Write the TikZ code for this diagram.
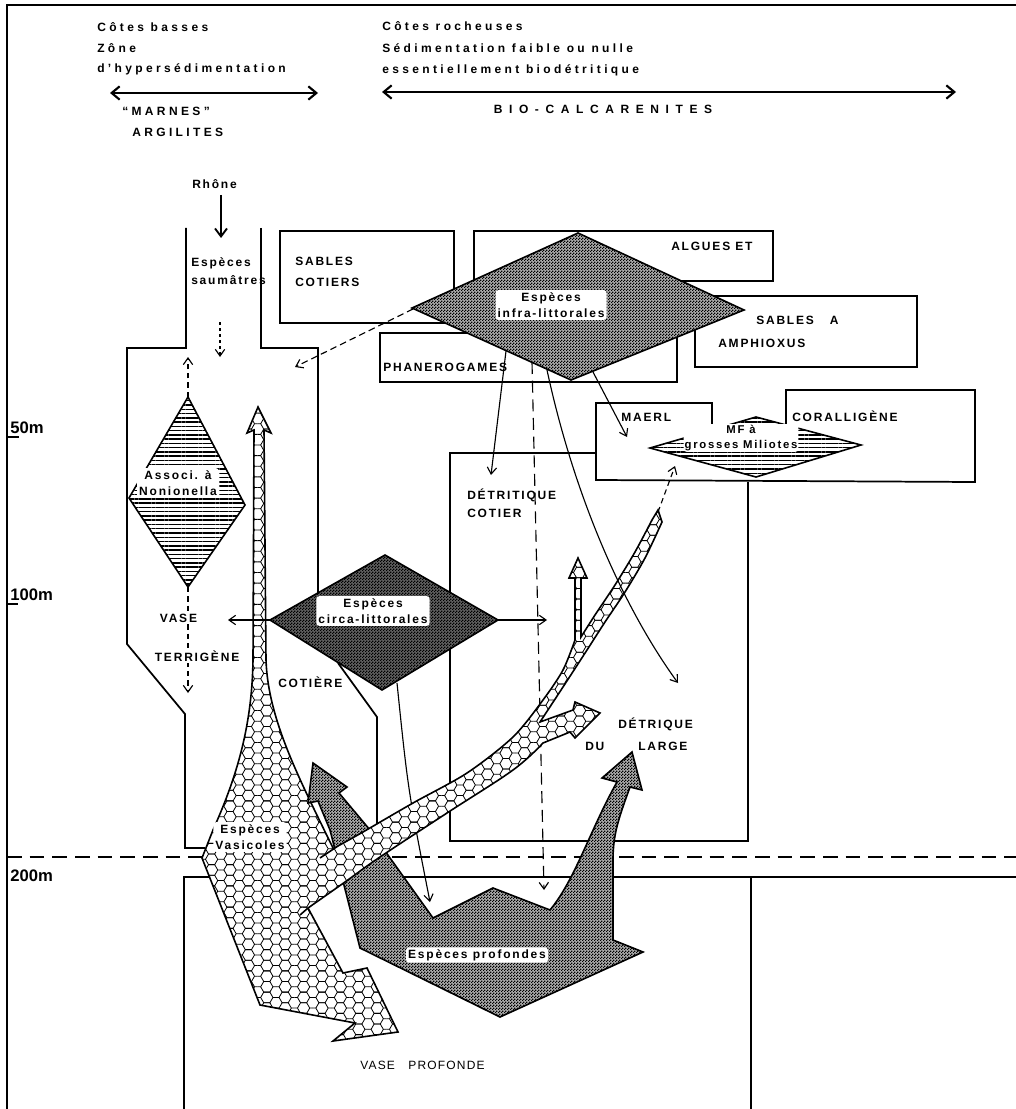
\documentclass[tikz,border=0pt]{standalone}
\usepackage{fontspec}
\setmainfont{Liberation Sans}
\newfontfamily\topf[LetterSpace=28]{Liberation Sans}
\newfontfamily\labf[LetterSpace=15]{Liberation Sans}
\newfontfamily\biof[LetterSpace=55]{Liberation Sans}
\newfontfamily\labg[LetterSpace=10]{Liberation Sans}
\usetikzlibrary{arrows.meta,patterns,patterns.meta}
\pgfdeclarepatternformonly{hexcells}{\pgfqpoint{-1pt}{-1pt}}{\pgfqpoint{14.8pt}{8.968pt}}{\pgfqpoint{13.8pt}{7.968pt}}{%
  \pgfsetlinewidth{0.6pt}%
  \pgfpathmoveto{\pgfqpoint{0pt}{3.984pt}}%
  \pgfpathlineto{\pgfqpoint{2.3pt}{3.984pt}}%
  \pgfpathlineto{\pgfqpoint{4.6pt}{7.968pt}}%
  \pgfpathlineto{\pgfqpoint{9.2pt}{7.968pt}}%
  \pgfpathlineto{\pgfqpoint{11.5pt}{3.984pt}}%
  \pgfpathlineto{\pgfqpoint{13.8pt}{3.984pt}}%
  \pgfpathmoveto{\pgfqpoint{2.3pt}{3.984pt}}%
  \pgfpathlineto{\pgfqpoint{4.6pt}{0pt}}%
  \pgfpathlineto{\pgfqpoint{9.2pt}{0pt}}%
  \pgfpathlineto{\pgfqpoint{11.5pt}{3.984pt}}%
  \pgfusepath{stroke}}
\pgfdeclarepatternformonly{halftone}{\pgfpointorigin}{\pgfqpoint{2pt}{2pt}}{\pgfqpoint{2pt}{2pt}}{%
  \pgfpathrectangle{\pgfpointorigin}{\pgfqpoint{1pt}{1pt}}%
  \pgfpathrectangle{\pgfqpoint{1pt}{1pt}}{\pgfqpoint{1pt}{1pt}}%
  \pgfusepath{fill}}
\begin{document}
\begin{tikzpicture}[x=0.75pt,y=-0.75pt,
  toplab/.style={font=\topf\bfseries\fontsize{9}{12.5}\selectfont, inner sep=0pt},
  lab/.style={font=\labf\bfseries\fontsize{9}{12.5}\selectfont, inner sep=0pt},
  wlab/.style={lab, fill=white, rounded corners=2pt, inner sep=1.5pt, align=center},
  plab/.style={font=\labg\fontsize{9}{10}\selectfont, inner sep=0pt},
  dep/.style={font=\bfseries\fontsize{12.5}{13}\selectfont, inner sep=0pt},
  wall/.style={line width=1.3pt},
  thinl/.style={line width=0.9pt},
  tarrow/.style={line width=0.85pt, -{Straight Barb[length=5pt,width=7pt]}},
  bigarrow/.style={line width=1.6pt, {Straight Barb[length=6pt,width=10pt]}-{Straight Barb[length=6pt,width=10pt]}},
  hexfill/.style={preaction={fill=white}, pattern=hexcells},
  stripes/.style={preaction={fill=white}, pattern={Lines[angle=0,distance=3.2pt,line width=1.1pt]}},
  greyA/.style={preaction={fill=black!32}, pattern=halftone},
  greyB/.style={preaction={fill=black!62}, pattern=halftone},
  shapeline/.style={line width=1.2pt}]
\useasboundingbox (0,0) rectangle (1016,1109);
\fill[white] (0,0) rectangle (1016,1109);

% frame
\draw[line width=1.5pt] (7,1109) -- (7,5) -- (1016,5);

% top texts
\node[toplab,anchor=base west] (cb1) at (97,32) {Côtes basses};
\node[toplab,anchor=base west] (cb2) at (97,53) {Zône};
\node[toplab,anchor=base west] (cb3) at (97,73) {d’hypersédimentation};
\node[toplab,anchor=base west] (cr1) at (382,31) {Côtes rocheuses};
\node[toplab,anchor=base west] (cr2) at (382,53) {Sédimentation faible ou nulle};
\node[toplab,anchor=base west] (cr3) at (382,74) {essentiellement biodétritique};
\coordinate (mL) at (110,93); \coordinate (mR) at (318,93);
\draw[bigarrow] (mL) -- (mR);
\node[toplab,anchor=base west] (marnes) at (122,116) {“MARNES”};
\node[toplab,anchor=base west] (argil) at (132,137) {ARGILITES};
\coordinate (bL) at (382,92); \coordinate (bR) at (956,92);
\draw[bigarrow] (bL) -- (bR);
\node[font=\biof\bfseries\fontsize{9}{10}\selectfont, inner sep=0pt, anchor=base] (bio) at (603,114) {BIO-CALCARENITES};

% Rhone
\node[lab,anchor=base west] (rhone) at (192,189) {Rhône};
\coordinate (rh1) at (221,195); \coordinate (rh2) at (221,238);
\draw[line width=1.4pt,-{Straight Barb[length=6pt,width=9pt]}] (rh1) -- (rh2);

% depth scale
\node[dep,anchor=base west] (d50) at (10,433) {50m};
\draw[thinl] (7,437) -- (19,437);
\node[dep,anchor=base west] (d100) at (10,600) {100m};
\draw[thinl] (7,604) -- (18,604);
\node[dep,anchor=base west] (d200) at (10,881) {200m};
\draw[line width=1.4pt, dash pattern=on 11pt off 6pt] (7,857) -- (1016,857);

% funnel (vase terrigene)
\draw[wall] (186,228) -- (186,348) -- (127,348) -- (127,644) -- (185,714) -- (185,848) -- (205,848);
\draw[wall] (261,228) -- (261,348) -- (318,348) -- (318,605);
\draw[wall] (338,663) -- (377,717) -- (377,850);
\node[lab,anchor=base west] (sa1) at (191,267) {Espèces};
\node[lab,anchor=base west] (sa2) at (191,284) {saumâtres};

% boxes
\draw[wall] (280,231) rectangle (454,323);
\draw[wall] (474,231) rectangle (773,281);
\draw[wall] (695,296) rectangle (917,367);
\draw[wall] (380,333) rectangle (677,382);
\draw[wall] (712,430) -- (712,403) -- (596,403) -- (596,480) -- (975,482) -- (975,390) -- (786,390) -- (786,425);
\draw[wall] (596,453) -- (450,453) -- (450,841) -- (748,841) -- (748,482);
\draw[wall] (184,1109) -- (184,877) -- (1016,877);
\draw[wall] (751,877) -- (751,1109);

% arrows from infra-littoral diamond
\coordinate (iL) at (413,309); \coordinate (iLt) at (295,367);
\draw[tarrow, dash pattern=on 5pt off 3pt] (iL) -- (iLt);
\coordinate (iA) at (506,351); \coordinate (iAt) at (491,475);
\draw[tarrow] (iA) -- (iAt);
\coordinate (iB) at (532,362); \coordinate (iBt) at (544,890);
\draw[tarrow, dash pattern=on 9pt off 5pt] (iB) -- (iBt);
\coordinate (iC) at (593,372); \coordinate (iCt) at (627,437);
\draw[tarrow] (iC) -- (iCt);

% infra diamond
\draw[shapeline, greyA] (578,233) coordinate (inT) -- (744,310) coordinate (inR) -- (571,380) coordinate (inB) -- (412,308) coordinate (inL) -- cycle;
\node[wlab] (infra) at (551,305) {Espèces\\infra-littorales};

% MF diamond
\draw[shapeline, stripes] (650,448) coordinate (mfL) -- (756,417) coordinate (mfT) -- (861,445) coordinate (mfR) -- (756,477) coordinate (mfB) -- cycle;
\node[wlab, inner sep=0.8pt, font=\labf\bfseries\fontsize{8.5}{11}\selectfont] (mf) at (741,438) {MF à\\grosses Miliotes};

% Nonionella diamond
\draw[shapeline, stripes] (188,397) coordinate (noT) -- (245,505) coordinate (noR) -- (188,587) coordinate (noB) -- (129,498) coordinate (noL) -- cycle;
\node[wlab] (non) at (178,483) {Associ. à\\Nonionella};
\coordinate (noUp) at (188,357); \coordinate (noDn) at (188,693);
\draw[tarrow, dash pattern=on 4pt off 3pt] (noT) -- (noUp);
\draw[tarrow, dash pattern=on 4pt off 3pt] (noB) -- (noDn);
\coordinate (saA) at (220,322); \coordinate (saB) at (220,357);
\draw[tarrow, dash pattern=on 2.5pt off 2pt] (saA) -- (saB);
\node[lab, fill=white, inner sep=1.2pt, anchor=base west] (vase) at (158,622) {VASE};
\node[lab, fill=white, inner sep=1.2pt, anchor=base west] (terr) at (153,661) {TERRIGÈNE};

% circa diamond
\draw[shapeline, greyB] (385,555) coordinate (ciT) -- (498,620) coordinate (ciR) -- (382,690) coordinate (ciB) -- (270,620) coordinate (ciL) -- cycle;
\node[wlab] (circa) at (373,611) {Espèces\\circa-littorales};
\coordinate (ciD) at (397,683); \coordinate (ciDt) at (430,902);
\draw[tarrow] (ciD) .. controls (408,790) .. (ciDt);

% vasicoles body
\draw[shapeline, hexfill] (258,407) -- (271,433) -- (264,430) -- (266,660) .. controls (268,720) and (300,780) .. (333,848) -- (340,880) -- (308,908) -- (343,973) -- (367,968) -- (398,1032) -- (333,1041) -- (355,1023) -- (260,1005) -- (202,858) -- (213,830) .. controls (240,770) and (252,720) .. (253,660) -- (254,430) -- (247,433) -- cycle;

% especes profondes
\draw[shapeline, greyA] (313,763) -- (347,787) -- (339,793) -- (370,830) -- (433,918) -- (493,888) -- (550,910) .. controls (575,880) and (590,830) .. (617,782) -- (602,778) -- (632,752) -- (642,790) -- (630,787) .. controls (618,820) and (613,835) .. (613,860) -- (613,940) -- (643,952) -- (500,1017) -- (360,948) -- (330,830) -- (318,801) -- (308,803) -- cycle;

% vasicoles band
\def\bandpath{(300,915) -- (308,908) -- plot[smooth, tension=0.6] coordinates {(308,908) (345,882) (380,857) (447,813) (513,770) (543,743)} -- (570,732) -- (575,738) -- (600,713) -- (575,702) -- (573,710) -- (540,722) -- plot[smooth] coordinates {(540,722) (563,687) (587,650) (605,622) (625,592) (645,558) (662,522)} -- (658,510) -- (652,520) -- plot[smooth] coordinates {(652,520) (635,552) (615,585) (595,615) (581,637)} -- (581,578) -- (587,578) -- (578,558) -- (569,578) -- (575,578) -- (575,640) -- plot[smooth] coordinates {(575,640) (563,670) (543,700) (513,737) (467,773) (413,803) (363,832) (338,846)} -- (320,858)}
\path[hexfill] \bandpath -- cycle;
\draw[shapeline] \bandpath;
\coordinate (bandEnd) at (658,512); \coordinate (mfIn) at (675,466);
\draw[tarrow, dash pattern=on 4pt off 3pt] (bandEnd) -- (mfIn);

% arrows after shapes
\coordinate (ciLt) at (228,620); \coordinate (ciRt) at (547,620);
\draw[tarrow] (ciL) -- (ciLt);
\draw[tarrow] (ciR) -- (ciRt);
\coordinate (iD) at (547,370); \coordinate (iDt) at (678,683);
\draw[tarrow] (iD) .. controls (575,500) and (625,610) .. (iDt);

% labels
\node[wlab] (vasic) at (250,837) {Espèces\\Vasicoles};
\node[wlab] (prof) at (477,955) {Espèces profondes};
\node[lab,anchor=base west] (cotiere) at (278,687) {COTIÈRE};
\node[lab,anchor=base west] (sc1) at (295,266) {SABLES};
\node[lab,anchor=base west] (sc2) at (295,286) {COTIERS};
\node[lab,anchor=base west] (alg) at (671,250) {ALGUES ET};
\node[lab,anchor=base west] (amp1) at (756,324) {SABLES\hspace{12pt}A};
\node[lab,anchor=base west] (amp2) at (718,347) {AMPHIOXUS};
\node[lab,anchor=base west] (phan) at (383,371) {PHANEROGAMES};
\node[lab,anchor=base west] (maerl) at (621,421) {MAERL};
\node[lab,anchor=base west] (coral) at (792,421) {CORALLIGÈNE};
\node[lab,anchor=base west] (dc1) at (467,499) {DÉTRITIQUE};
\node[lab,anchor=base west] (dc2) at (467,517) {COTIER};
\node[lab,anchor=base west] (dl1) at (618,728) {DÉTRIQUE};
\node[lab,anchor=base west] (dl2) at (585,750) {DU};
\node[lab,anchor=base west] (dl3) at (638,750) {LARGE};
\node[plab,anchor=base west] (vp) at (360,1069) {VASE\hspace{10pt}PROFONDE};
\end{tikzpicture}
\end{document}
